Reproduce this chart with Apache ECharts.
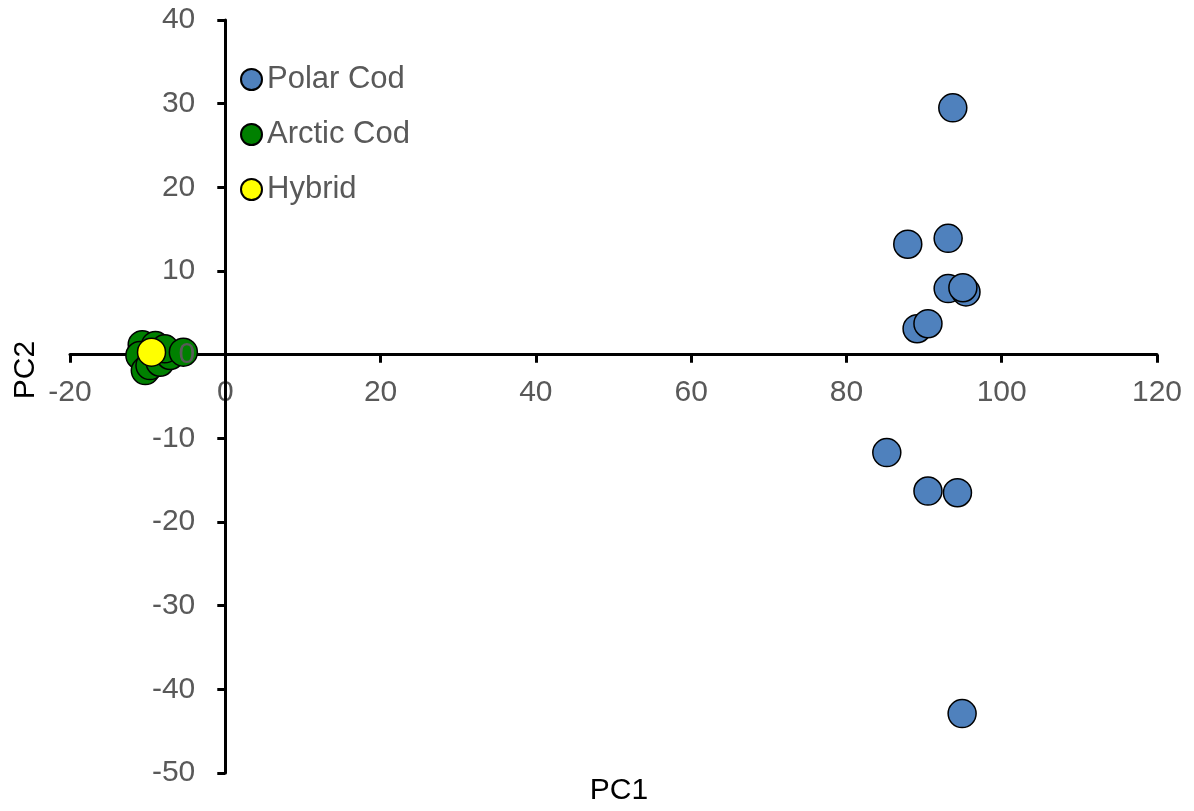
<!DOCTYPE html>
<html>
<head>
<meta charset="utf-8">
<script src="https://cdn.jsdelivr.net/npm/echarts@6/dist/echarts.min.js"></script>
<style>
html,body{margin:0;padding:0;background:#fff;}
#chart{width:1194px;height:811px;}
</style>
</head>
<body>
<div id="chart"></div>
<script>
const seriesNames = ["Polar Cod", "Arctic Cod", "Hybrid"];
const polarCod = [
  [93.7, 29.5], [87.9, 13.2], [93.1, 13.9], [93.1, 7.9], [95.4, 7.5], [95.0, 8.0],
  [89.1, 3.1], [90.5, 3.7], [85.2, -11.7], [90.5, -16.3], [94.3, -16.5], [94.9, -42.9]
];
const arcticCod = [
  [-10.7, 1.2], [-11.0, -0.1], [-10.3, -1.9], [-9.7, -1.3], [-8.4, -0.9], [-7.1, -0.1],
  [-9.0, 1.1], [-7.8, 0.7], [-5.4, 0.3]
];
const hybrid = [[-9.5, 0.3]];
const xRange = [-20, 120, 20];
const yRange = [-50, 40, 10];
const colors = ["#4F81BD", "#008000", "#FFFF00"];

const W = 1194, H = 811;
const grid = {left: 70, right: 37, top: 20, bottom: 38};
const plotW = W - grid.left - grid.right;
const plotH = H - grid.top - grid.bottom;
// place axes through the origin (crossing at zero)
const xAxisOffset = -plotH * (0 - yRange[0]) / (yRange[1] - yRange[0]);
const yAxisOffset = -plotW * (0 - xRange[0]) / (xRange[1] - xRange[0]);

const chart = echarts.init(document.getElementById('chart'));
const font = "'Liberation Sans', Arial, sans-serif";
const axisLine = {onZero: false, lineStyle: {color: '#000', width: 3}};
const axisTick = {show: true, inside: false, length: 8, lineStyle: {color: '#000', width: 3}};
const mk = (name, data, color) => ({
  name: name, type: 'scatter', data: data, symbol: 'circle', symbolSize: 28,
  itemStyle: {color: color, borderColor: '#000', borderWidth: 1.5, opacity: 1},
  emphasis: {disabled: true}
});
chart.setOption({
  animation: false,
  textStyle: {fontFamily: font},
  grid: Object.assign({containLabel: false, outerBoundsMode: 'none'}, grid),
  xAxis: {
    type: 'value', min: xRange[0], max: xRange[1], interval: xRange[2],
    position: 'bottom', offset: xAxisOffset,
    axisLine: axisLine, axisTick: axisTick, splitLine: {show: false},
    axisLabel: {color: '#595959', fontSize: 30, fontFamily: font, margin: 23, hideOverlap: false}
  },
  yAxis: {
    type: 'value', min: yRange[0], max: yRange[1], interval: yRange[2],
    position: 'left', offset: yAxisOffset, z: 3,
    axisLine: axisLine, axisTick: axisTick, splitLine: {show: false},
    axisLabel: {color: '#595959', fontSize: 30, fontFamily: font, margin: 30, hideOverlap: false}
  },
  legend: {
    orient: 'vertical', left: 235, top: 59, itemWidth: 21, itemHeight: 21, itemGap: 24,
    icon: 'circle',
    textStyle: {color: '#595959', fontSize: 31, fontFamily: font, lineHeight: 31},
    data: seriesNames
  },
  graphic: [
    {type: 'text', x: 619, y: 791, style: {text: 'PC1', fill: '#000', font: '30px ' + font, align: 'center', verticalAlign: 'middle'}},
    {type: 'text', x: 26, y: 370, rotation: Math.PI / 2, style: {text: 'PC2', fill: '#000', font: '30px ' + font, align: 'center', verticalAlign: 'middle'}}
  ],
  series: [
    mk(seriesNames[0], polarCod, colors[0]),
    mk(seriesNames[1], arcticCod, colors[1]),
    mk(seriesNames[2], hybrid, colors[2])
  ]
});
</script>
</body>
</html>
